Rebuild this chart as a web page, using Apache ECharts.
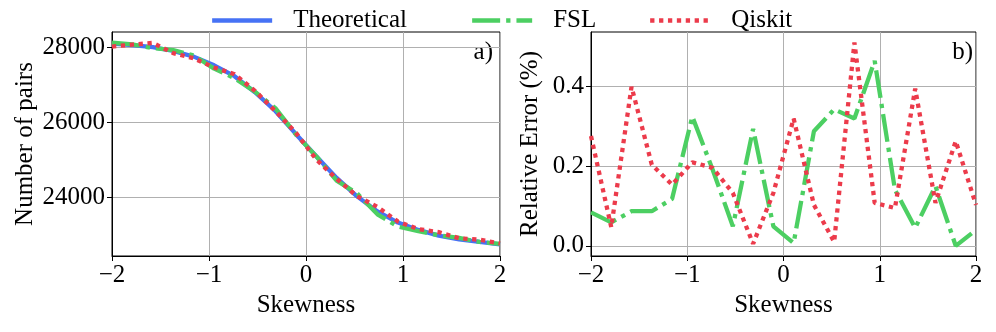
<!DOCTYPE html>
<html>
<head>
<meta charset="utf-8">
<script src="https://cdn.jsdelivr.net/npm/echarts@6/dist/echarts.min.js"></script>
<style>
html,body{margin:0;padding:0;background:#fff;}
#chart{width:996px;height:332px;}
</style>
</head>
<body>
<div id="chart"></div>
<script>
// Skewness values (20 points, -2..2)
const skewness = [-2, -1.7895, -1.5789, -1.3684, -1.1579, -0.9474, -0.7368, -0.5263, -0.3158, -0.1053,
                  0.1053, 0.3158, 0.5263, 0.7368, 0.9474, 1.1579, 1.3684, 1.5789, 1.7895, 2];
// Panel a) Number of pairs
const theoretical = [28090, 28052, 27998, 27895, 27745, 27515, 27225, 26800, 26300, 25690,
                     25095, 24520, 24030, 23630, 23335, 23138, 22988, 22890, 22818, 22757];
const fsl = [28114, 28069, 27974, 27919, 27778, 27426, 27173, 26813, 26377, 25677,
             25097, 24449, 24112, 23554, 23227, 23105, 22998, 22924, 22818, 22766];
const qiskit = [28012, 28065, 28110, 27838, 27702, 27457, 27278, 26836, 26299, 25724,
                25015, 24495, 24032, 23751, 23360, 23160, 23079, 22915, 22878, 22780];
// Panel b) Relative error (%)
const fslError = [0.084, 0.059, 0.087, 0.087, 0.118, 0.325, 0.192, 0.049, 0.294, 0.049,
                  0.007, 0.288, 0.343, 0.320, 0.465, 0.141, 0.045, 0.150, 0.000, 0.040];
const qiskitError = [0.276, 0.047, 0.400, 0.204, 0.154, 0.210, 0.196, 0.133, 0.005, 0.133,
                     0.320, 0.103, 0.010, 0.511, 0.108, 0.095, 0.395, 0.108, 0.263, 0.103];
// Tick labels
const xTicks = [-2, -1, 0, 1, 2];
const pairTicks = [24000, 26000, 28000];
const errorTicks = [0, 0.2, 0.4];

const FONT = '"Liberation Serif", "DejaVu Serif", serif';
const FS = 25;
const BLUE = '#4672f5', GREEN = '#4ccf62', RED = '#ec3b4b';
const LW = 4.3;
const DASHDOT = [28, 6, 4.3, 6];
const DOT = [4.3, 4.6];

function pairs(ys){ return skewness.map((x,i)=>[x, ys[i]]); }
const minusFmt = v => String(v).replace('-', '\u2212');

function xAxisFor(gi){
  return {
    gridIndex: gi, type: 'value', min: -2, max: 2, interval: 1,
    name: 'Skewness', nameLocation: 'middle', nameGap: 32,
    nameTextStyle: {fontFamily: FONT, fontSize: FS, color: '#000'},
    axisLine: {show: true, onZero: false, lineStyle: {color: '#000', width: 1}},
    axisTick: {show: true, inside: false, length: 5, lineStyle: {color: '#000', width: 1}},
    axisLabel: {fontFamily: FONT, fontSize: FS, color: '#000', margin: 7, formatter: minusFmt},
    splitLine: {show: true, lineStyle: {color: '#b0b0b0', width: 1}}
  };
}

const option = {
  animation: false,
  backgroundColor: '#fff',
  grid: [
    {left: 112, top: 32, width: 388, height: 224, show: true, borderColor: '#000', borderWidth: 1, backgroundColor: 'transparent'},
    {left: 591, top: 32, width: 385, height: 224, show: true, borderColor: '#000', borderWidth: 1, backgroundColor: 'transparent'}
  ],
  legend: [
    {left: 205, top: 3, data: ['Theoretical'], lineStyle: {width: LW, type: 'solid'}},
    {left: 465, top: 3, data: ['FSL'], lineStyle: {width: LW, type: DASHDOT}},
    {left: 643, top: 3, data: ['Qiskit'], lineStyle: {width: LW, type: DOT}}
  ].map(l => Object.assign(l, {
    itemWidth: 60, itemHeight: 14, itemGap: 0,
    itemStyle: {opacity: 0},
    textStyle: {fontFamily: FONT, fontSize: FS, color: '#000', padding: [0, 0, 0, 16]}
  })),
  xAxis: [xAxisFor(0), xAxisFor(1)],
  yAxis: [
    {
      gridIndex: 0, type: 'value', min: 22445, max: 28400,
      name: 'Number of pairs', nameLocation: 'middle', nameGap: 74,
      nameTextStyle: {fontFamily: FONT, fontSize: FS, color: '#000'},
      axisLine: {show: true, onZero: false, lineStyle: {color: '#000', width: 1}},
      axisTick: {show: true, length: 5, customValues: pairTicks, lineStyle: {color: '#000', width: 1}},
      axisLabel: {fontFamily: FONT, fontSize: FS, color: '#000', margin: 7, customValues: pairTicks, formatter: v => String(v)},
      splitLine: {show: true, customValues: pairTicks, lineStyle: {color: '#b0b0b0', width: 1}}
    },
    {
      gridIndex: 1, type: 'value', min: -0.0256, max: 0.5376,
      name: 'Relative Error (%)', nameLocation: 'middle', nameGap: 48,
      nameTextStyle: {fontFamily: FONT, fontSize: FS, color: '#000'},
      axisLine: {show: true, onZero: false, lineStyle: {color: '#000', width: 1}},
      axisTick: {show: true, length: 5, customValues: errorTicks, lineStyle: {color: '#000', width: 1}},
      axisLabel: {fontFamily: FONT, fontSize: FS, color: '#000', margin: 7, customValues: errorTicks, formatter: v => v.toFixed(1)},
      splitLine: {show: true, customValues: errorTicks, lineStyle: {color: '#b0b0b0', width: 1}}
    }
  ],
  graphic: [
    {type: 'text', right: 996 - 493, top: 40, style: {text: 'a)', font: FS + 'px ' + FONT, fill: '#000'}},
    {type: 'text', right: 996 - 973, top: 40, style: {text: 'b)', font: FS + 'px ' + FONT, fill: '#000'}}
  ],
  series: [
    {name: 'Theoretical', type: 'line', xAxisIndex: 0, yAxisIndex: 0, data: pairs(theoretical),
     symbol: 'none', color: BLUE, lineStyle: {color: BLUE, width: LW, type: 'solid'}, z: 2},
    {name: 'FSL', type: 'line', xAxisIndex: 0, yAxisIndex: 0, data: pairs(fsl),
     symbol: 'none', color: GREEN, lineStyle: {color: GREEN, width: LW, type: DASHDOT, cap: 'butt'}, z: 3},
    {name: 'Qiskit', type: 'line', xAxisIndex: 0, yAxisIndex: 0, data: pairs(qiskit),
     symbol: 'none', color: RED, lineStyle: {color: RED, width: LW, type: DOT, cap: 'butt'}, z: 4},
    {name: 'FSL', type: 'line', xAxisIndex: 1, yAxisIndex: 1, data: pairs(fslError),
     symbol: 'none', color: GREEN, lineStyle: {color: GREEN, width: LW, type: DASHDOT, cap: 'butt'}, z: 3},
    {name: 'Qiskit', type: 'line', xAxisIndex: 1, yAxisIndex: 1, data: pairs(qiskitError),
     symbol: 'none', color: RED, lineStyle: {color: RED, width: LW, type: DOT, cap: 'butt'}, z: 4}
  ]
};
const chart = echarts.init(document.getElementById('chart'), null, {renderer: 'canvas'});
chart.setOption(option);
</script>
</body>
</html>
